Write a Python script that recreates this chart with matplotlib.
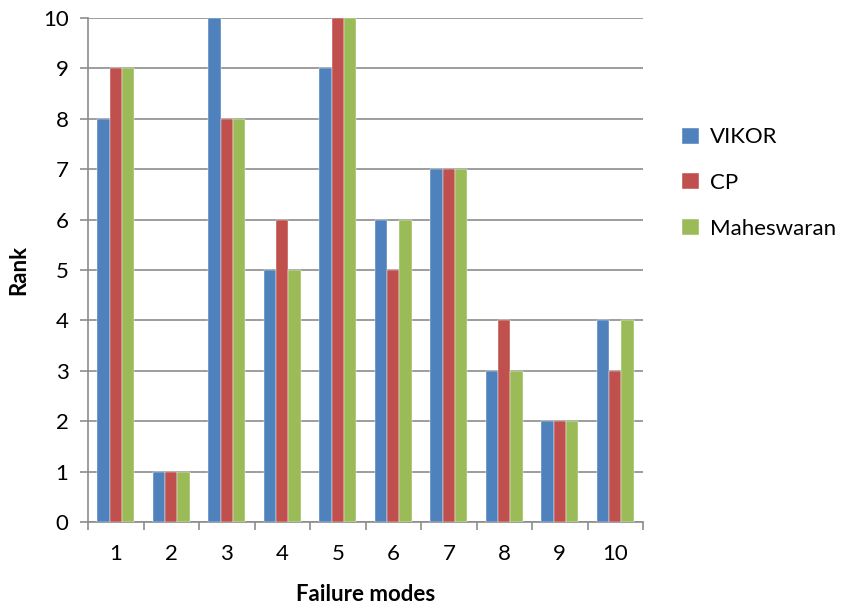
import numpy as np
import matplotlib
matplotlib.use("Agg")
import matplotlib.pyplot as plt
from matplotlib.ticker import FixedLocator

plt.rcParams['font.family'] = ['Lato', 'DejaVu Sans']

# Rank of each failure mode under the three methods
modes = ['1', '2', '3', '4', '5', '6', '7', '8', '9', '10']
vikor = [8, 1, 10, 5, 9, 6, 7, 3, 2, 4]
cp = [9, 1, 8, 6, 10, 5, 7, 4, 2, 3]
maheswaran = [9, 1, 8, 5, 10, 6, 7, 3, 2, 4]

series = [('VIKOR', vikor, '#4F81BD'),
          ('CP', cp, '#C0504D'),
          ('Maheswaran', maheswaran, '#9BBB59')]

fig = plt.figure(figsize=(8.49, 6.12), dpi=100)
ax = fig.add_axes([88 / 849, 90 / 612, 555 / 849, 504 / 612])

x = np.arange(1, len(modes) + 1)
w = 0.224
for i, (name, vals, col) in enumerate(series):
    ax.bar(x + (i - 1) * w, vals, width=w, color=col, label=name,
           edgecolor='white', linewidth=0.3, zorder=3)

ax.set_xlim(0.5, len(modes) + 0.5)
ax.set_ylim(0, 10)
ax.set_yticks(range(0, 11))
ax.set_xticks(x)
ax.set_xticklabels(modes)
ax.xaxis.set_minor_locator(FixedLocator(np.arange(0.5, len(modes) + 1, 1)))

ax.grid(axis='y', color='#8c8c8c', linewidth=1.2, zorder=0)
for side in ('top', 'right'):
    ax.spines[side].set_visible(False)
for side in ('left', 'bottom'):
    ax.spines[side].set_color('#8c8c8c')
    ax.spines[side].set_linewidth(1.2)

fs = 16
ax.tick_params(axis='x', which='major', length=0, pad=16, labelsize=fs)
ax.tick_params(axis='x', which='minor', length=6, width=1.2, color='#8c8c8c')
ax.tick_params(axis='y', length=6, width=1.2, color='#8c8c8c', pad=8, labelsize=fs)

ax.set_xlabel('Failure modes', fontsize=fs, fontweight='bold', labelpad=14)
ax.set_ylabel('Rank', fontsize=fs, fontweight='bold', labelpad=10)

ax.legend(loc='center left', bbox_to_anchor=(574 / 555, (522 - 183) / 504),
          frameon=False, fontsize=fs, handlelength=0.75, handleheight=0.75,
          handletextpad=0.5, labelspacing=1.15)

fig.savefig('out.png', dpi=100)
